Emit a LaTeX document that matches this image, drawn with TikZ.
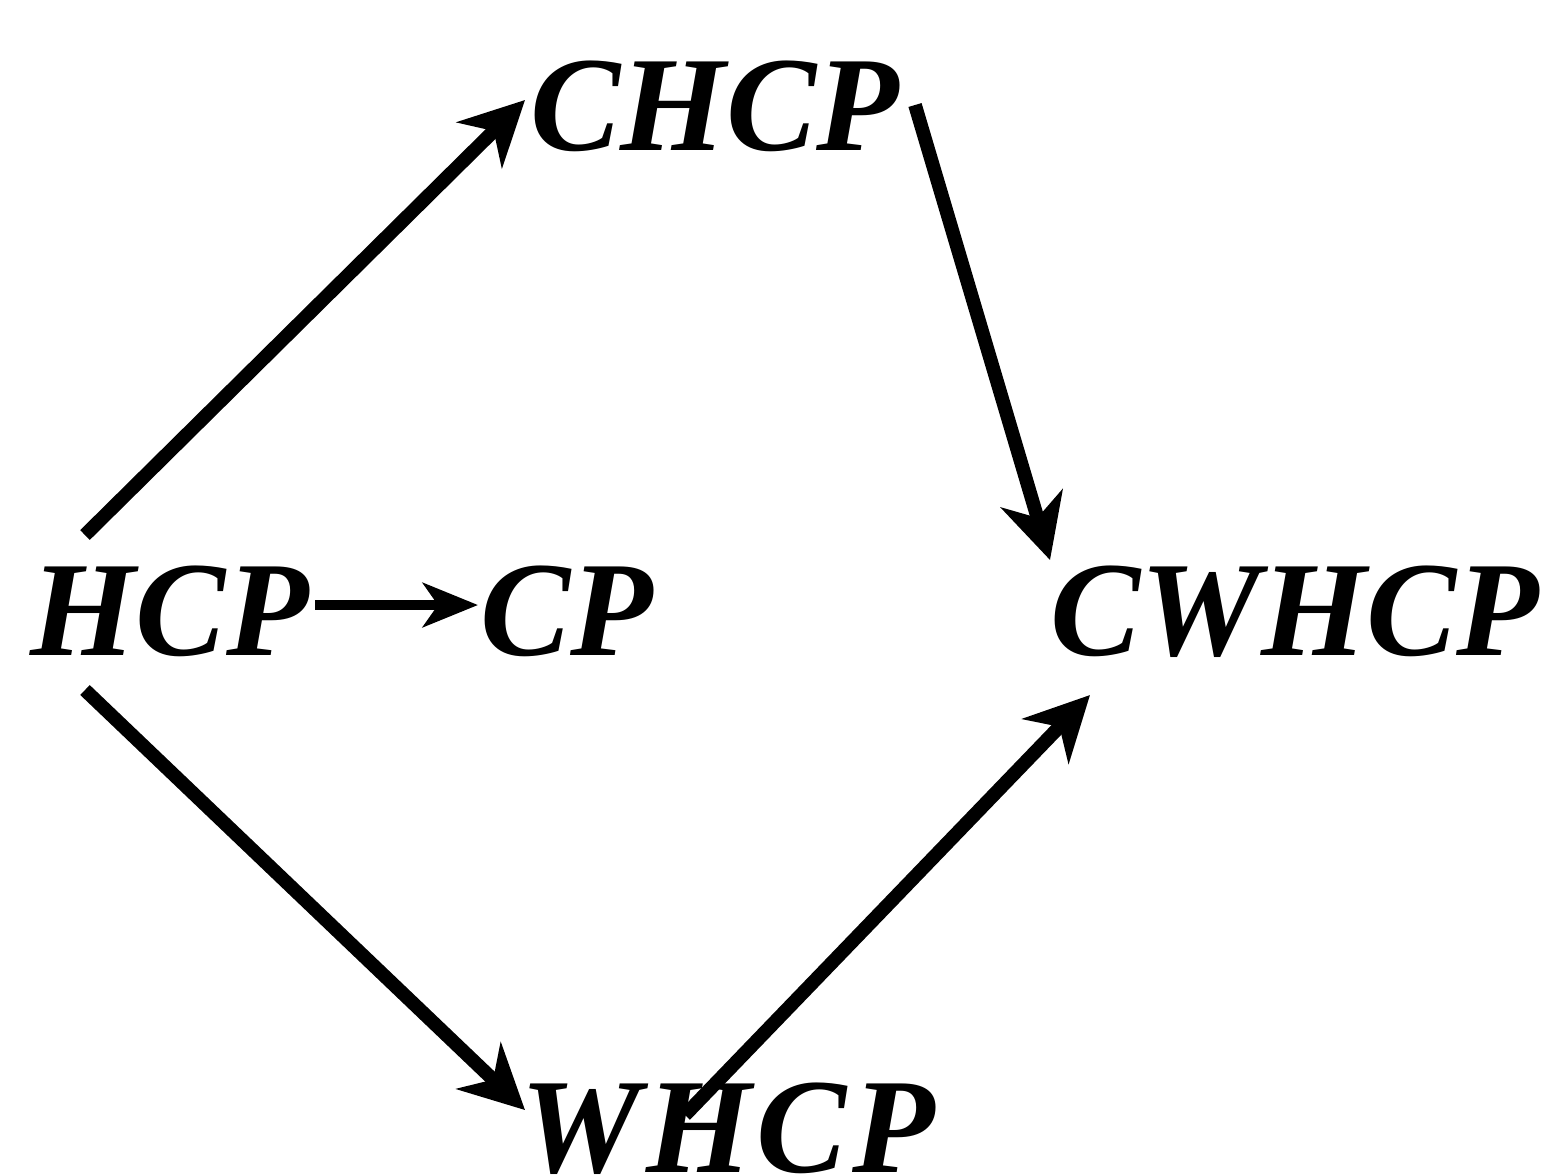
\documentclass[tikz,border=0pt]{standalone}
\usepackage{fontspec}
\setmainfont{Liberation Serif}
\usetikzlibrary{calc,arrows.meta}
\begin{document}
\begin{tikzpicture}[
  lbl/.style={inner sep=0pt, anchor=base west, font=\fontsize{38.5}{40}\selectfont\bfseries\itshape},
  bigarrow/.style={line width=3.9pt, -{Stealth[length=0.64cm, width=0.64cm, inset=0.2cm]}},
  smallarrow/.style={line width=3.0pt, -{Stealth[length=0.55cm, width=0.44cm, inset=0.15cm]}}
]
\useasboundingbox (0,0) rectangle (15.6,-11.74);
\node[lbl] (chcp) at (5.30,-1.50) {CHCP};
\node[lbl] (hcp) at (0.30,-6.55) {HCP};
\node[lbl] (cp) at (4.80,-6.55) {CP};
\node[lbl] (cwhcp) at (10.50,-6.55) {CWHCP};
\node[lbl] (whcp) at (5.20,-11.72) {\addfontfeature{LetterSpace=4}WHCP};
\draw[bigarrow] ($(hcp.base west)+(0.55,1.20)$) -- ($(chcp.base west)+(-0.05,0.50)$);
\draw[bigarrow] ($(chcp.base west)+(3.85,0.45)$) -- ($(cwhcp.base west)+(0.0,0.95)$);
\draw[smallarrow] ($(hcp.base west)+(2.85,0.50)$) -- ($(cp.base west)+(-0.02,0.50)$);
\draw[bigarrow] ($(hcp.base west)+(0.55,-0.35)$) -- ($(whcp.base west)+(0.05,0.62)$);
\draw[bigarrow] ($(whcp.base west)+(1.65,0.57)$) -- ($(cwhcp.base west)+(0.40,-0.40)$);
\end{tikzpicture}
\end{document}
